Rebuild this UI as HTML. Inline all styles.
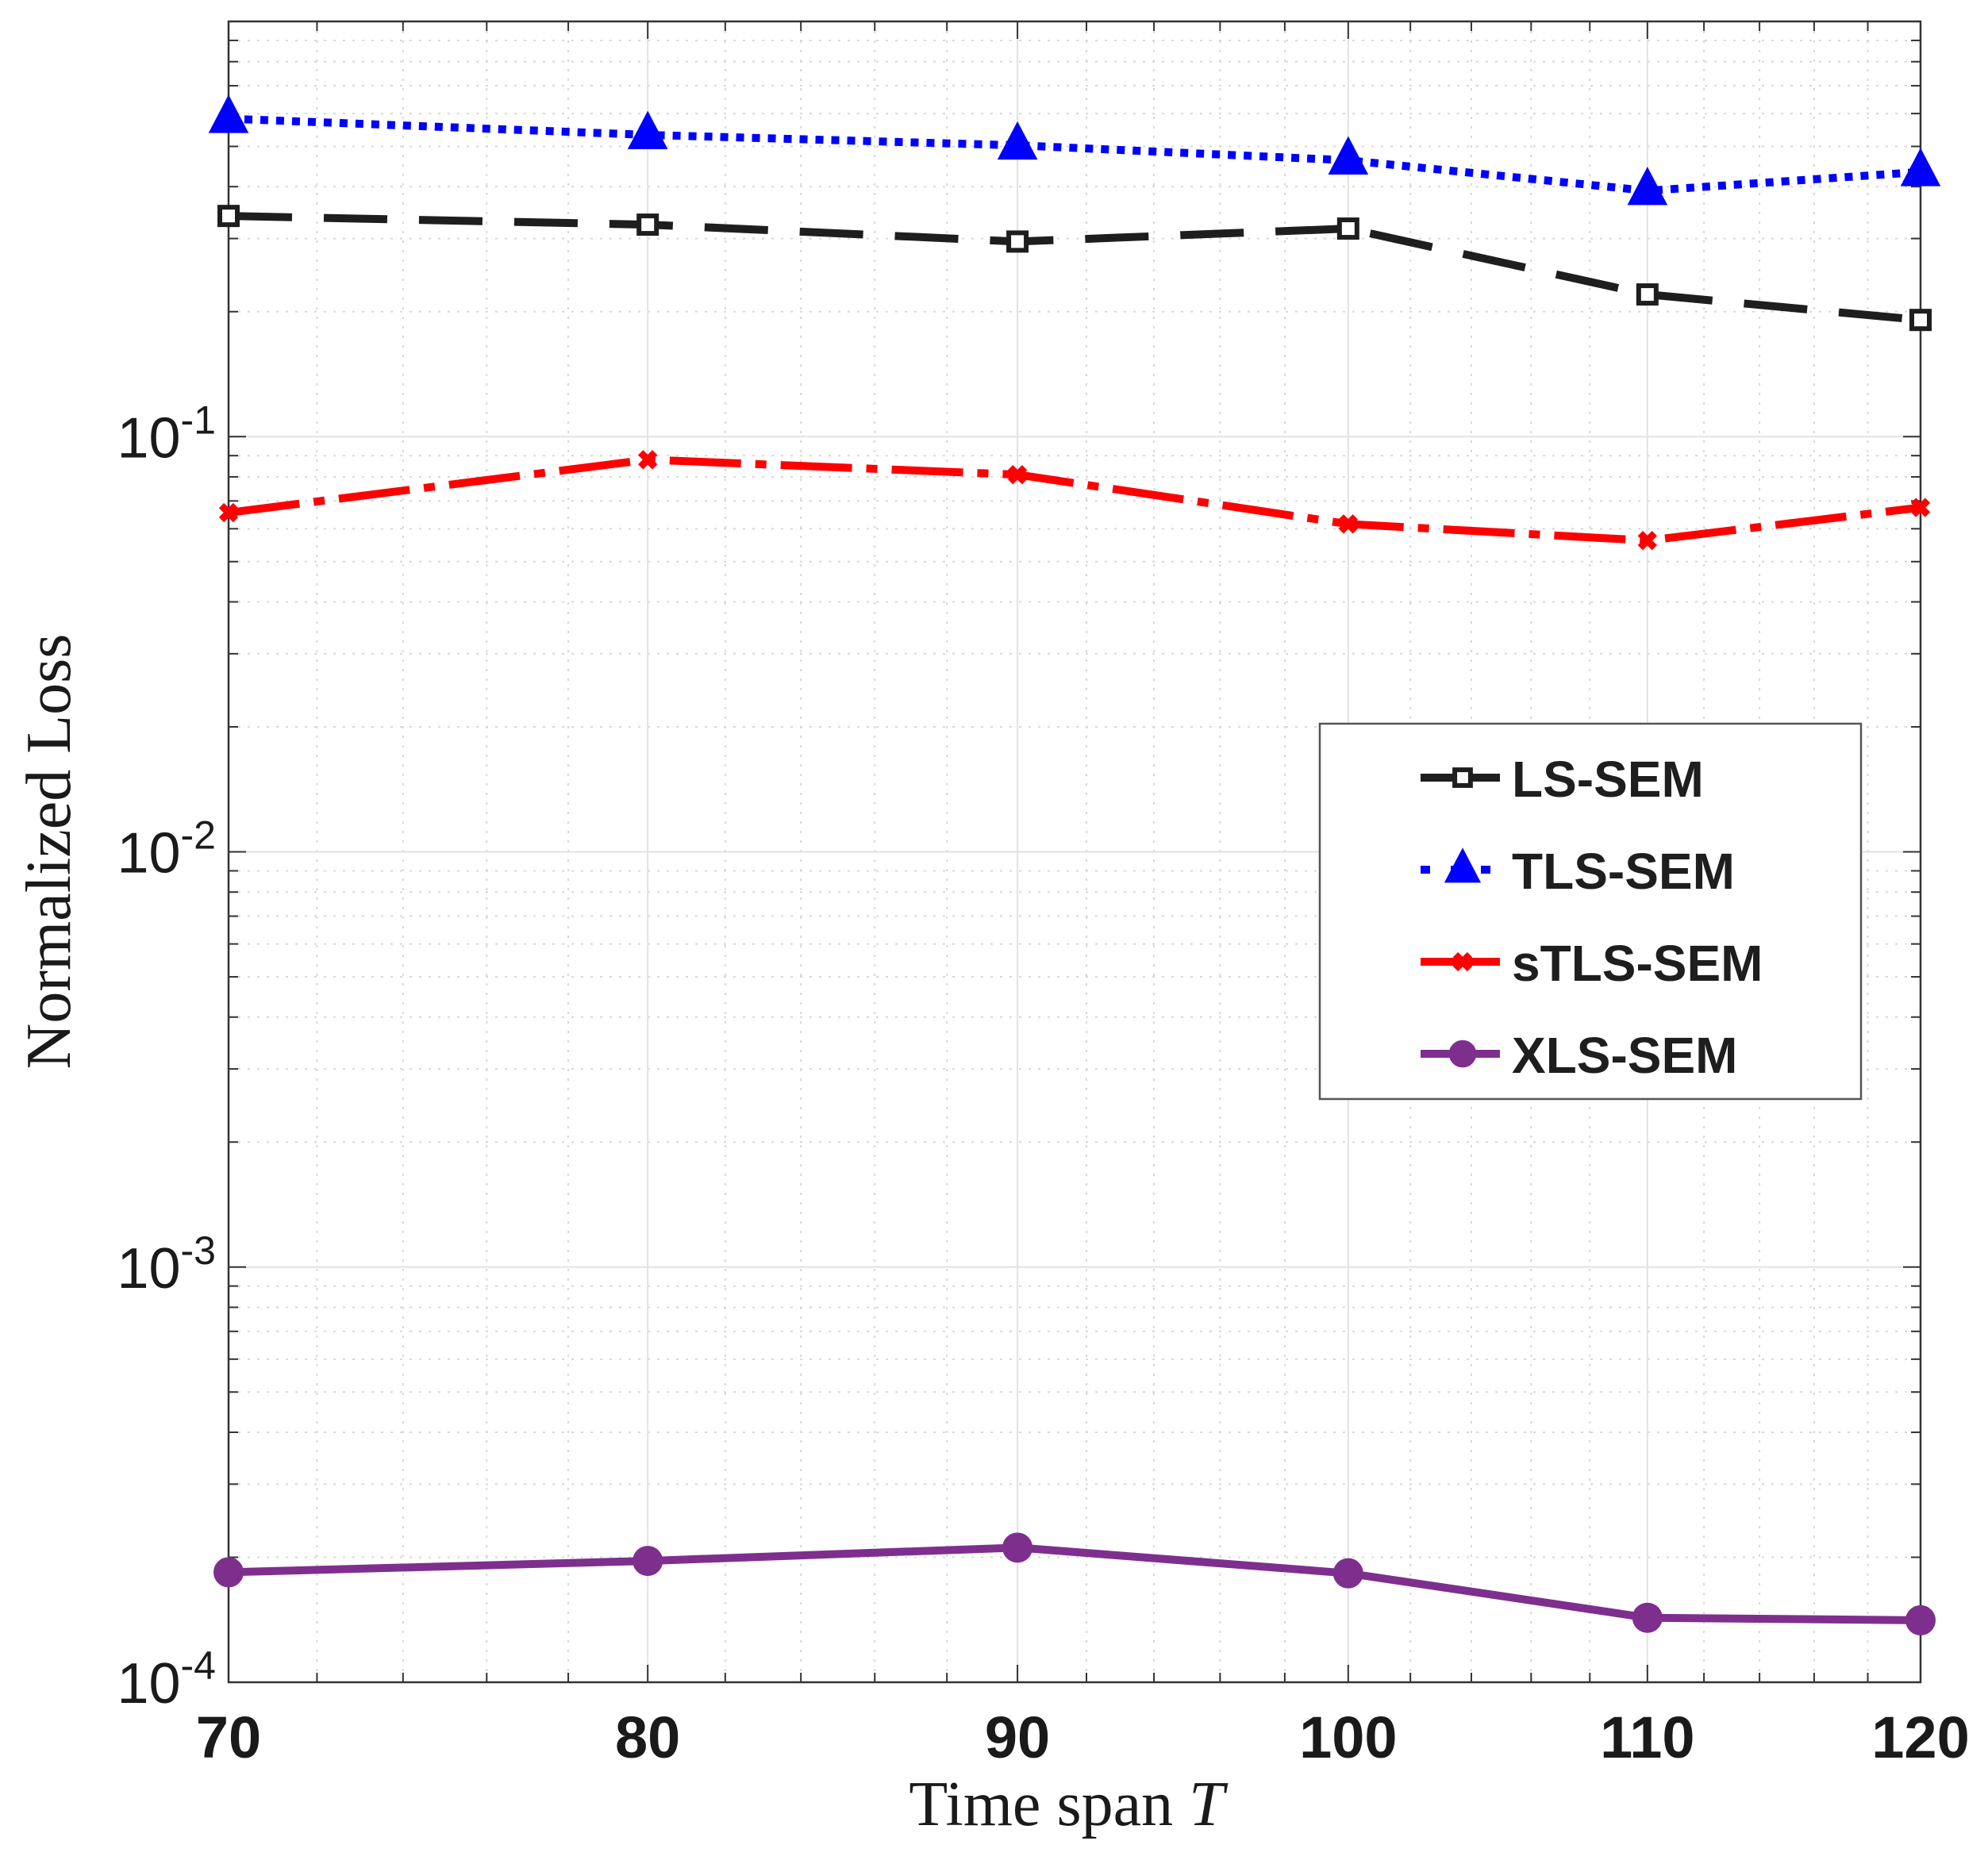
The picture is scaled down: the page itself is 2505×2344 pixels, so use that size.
<!DOCTYPE html>
<html><head><meta charset="utf-8"><style>
html,body{margin:0;padding:0;background:#fff}
svg{display:block}
</style></head><body>
<svg id="chart" width="2505" height="2344" viewBox="0 0 2505 2344" xmlns="http://www.w3.org/2000/svg">
<g id="grid"></g>
<g id="axes"></g>
<g id="series"></g>
<g id="legend"></g>
</svg>
<script>
const categories = [70, 80, 90, 100, 110, 120];
const lsSem = [0.34, 0.324, 0.295, 0.317, 0.22, 0.191];
const tlsSem = [0.583, 0.533, 0.503, 0.463, 0.391, 0.434];
const stlsSem = [0.0656, 0.088, 0.081, 0.0616, 0.0562, 0.0675];
const xlsSem = [1.84e-4, 1.96e-4, 2.11e-4, 1.83e-4, 1.43e-4, 1.41e-4];
const xTickLabels = ["70", "80", "90", "100", "110", "120"];
const yTickExps = [-4, -3, -2, -1];

const NS = "http://www.w3.org/2000/svg";
const L = 288, R = 2420, T = 27, B = 2120;
const xMin = 70, xMax = 120, yMinE = -4, yMaxE = 0;
function xs(v){ return L + (Math.log10(v) - Math.log10(xMin)) / (Math.log10(xMax) - Math.log10(xMin)) * (R - L); }
function ys(v){ return B - (Math.log10(v) - yMinE) / (yMaxE - yMinE) * (B - T); }
function mk(tag, attrs, parent){ const e = document.createElementNS(NS, tag); for (const k in attrs) e.setAttribute(k, attrs[k]); parent.appendChild(e); return e; }

const grid = document.getElementById('grid'), axes = document.getElementById('axes'), series = document.getElementById('series'), legend = document.getElementById('legend');
mk('rect', {x:L, y:T, width:R-L, height:B-T, fill:'#fff'}, grid);
for (let v = 72; v < 120; v += 2) {
  if (v % 10 === 0) continue;
  const l = mk('line', {x1:xs(v), x2:xs(v), y1:T, y2:B, stroke:'#d8d8d8', 'stroke-width':2, 'stroke-dasharray':'3 9'}, grid);
  
  
  mk('line', {x1:xs(v), x2:xs(v), y1:B, y2:B-12, stroke:'#333', 'stroke-width':2}, axes);
  mk('line', {x1:xs(v), x2:xs(v), y1:T, y2:T+12, stroke:'#333', 'stroke-width':2}, axes);
}
for (let e = -4; e < 0; e++) for (let m = 2; m <= 9; m++) {
  const y = ys(m * Math.pow(10, e));
  const l = mk('line', {x1:L, x2:R, y1:y, y2:y, stroke:'#d8d8d8', 'stroke-width':2, 'stroke-dasharray':'3 9'}, grid);
  
  
  mk('line', {x1:L, x2:L+12, y1:y, y2:y, stroke:'#333', 'stroke-width':2}, axes);
  mk('line', {x1:R, x2:R-12, y1:y, y2:y, stroke:'#333', 'stroke-width':2}, axes);
}
categories.forEach((c, i) => {
  const x = xs(c);
  const l = mk('line', {x1:x, x2:x, y1:T, y2:B, stroke:'#e2e2e2', 'stroke-width':2}, grid);
  
  
  mk('line', {x1:x, x2:x, y1:B, y2:B-22, stroke:'#333', 'stroke-width':2}, axes);
  mk('line', {x1:x, x2:x, y1:T, y2:T+22, stroke:'#333', 'stroke-width':2}, axes);
  const t = mk('text', {x:x, y:2215, 'text-anchor':'middle', 'font-family':'Liberation Sans, sans-serif', 'font-size':74, 'font-weight':'bold', fill:'#1a1a1a'}, axes);
  t.textContent = xTickLabels[i];
  
  
});
yTickExps.forEach(e => {
  const y = ys(Math.pow(10, e));
  const l = mk('line', {x1:L, x2:R, y1:y, y2:y, stroke:'#e2e2e2', 'stroke-width':2}, grid);
  
  
  mk('line', {x1:L, x2:L+22, y1:y, y2:y, stroke:'#333', 'stroke-width':2}, axes);
  mk('line', {x1:R, x2:R-22, y1:y, y2:y, stroke:'#333', 'stroke-width':2}, axes);
  const t = mk('text', {x:L-16, y:y+26, 'text-anchor':'end', 'font-family':'Liberation Sans, sans-serif', 'font-size':72, fill:'#1a1a1a'}, axes);
  
  
  const base = document.createElementNS(NS, 'tspan'); base.textContent = '10'; t.appendChild(base);
  const sup = document.createElementNS(NS, 'tspan'); sup.setAttribute('dy', -30); sup.setAttribute('font-size', 50); sup.textContent = String(e); t.appendChild(sup);
});
mk('rect', {x:L, y:T, width:R-L, height:B-T, fill:'none', stroke:'#333', 'stroke-width':2.5}, axes);
let xt = mk('text', {x:(L+R)/2 - 10, y:2300, 'text-anchor':'middle', 'font-family':'Liberation Serif, serif', 'font-size':80, fill:'#1a1a1a'}, axes);
xt.innerHTML = 'Time span <tspan font-style="italic">T</tspan>';


let yt = mk('text', {x:0, y:0, transform:'translate(88,1073) rotate(-90)', 'text-anchor':'middle', 'font-family':'Liberation Serif, serif', 'font-size':80, fill:'#1a1a1a'}, axes);
yt.textContent = 'Normalized  Loss';



const seriesDefs = [
  {name:'ls-sem', label:'LS-SEM', data:lsSem, color:'#1e1e1e', dash:'80 40', marker:'square'},
  {name:'tls-sem', label:'TLS-SEM', data:tlsSem, color:'#0000ff', dash:'10 10', marker:'triangle'},
  {name:'stls-sem', label:'sTLS-SEM', data:stlsSem, color:'#ff0000', dash:'90 18 14 18', marker:'x'},
  {name:'xls-sem', label:'XLS-SEM', data:xlsSem, color:'#7e2f8e', dash:'none', marker:'circle'}
];
function marker(type, x, y, color, parent, s){
  s = s || 1;
  if (type === 'square') return mk('rect', {x:x-11*s, y:y-11*s, width:22*s, height:22*s, fill:'#fff', stroke:color, 'stroke-width':6}, parent);
  if (type === 'triangle') return mk('polygon', {points:`${x},${y-26*s} ${x-22*s},${y+16*s} ${x+22*s},${y+16*s}`, fill:color, stroke:color, 'stroke-width':4}, parent);
  if (type === 'x') { const g = mk('g', {}, parent); mk('path', {d:`M${x-9},${y-9}L${x+9},${y+9}M${x-9},${y+9}L${x+9},${y-9}`, stroke:color, 'stroke-width':9}, g); return g; }
  return mk('circle', {cx:x, cy:y, r:17*s, fill:color, stroke:color, 'stroke-width':4}, parent);
}
seriesDefs.forEach(sd => {
  const g = mk('g', {}, series);
  
  
  const pts = categories.map((c, i) => xs(c) + ',' + ys(sd.data[i])).join(' ');
  const pl = mk('polyline', {points:pts, fill:'none', stroke:sd.color, 'stroke-width':10, 'stroke-dasharray':sd.dash}, g);
  
  
  categories.forEach((c, i) => {
    const m = marker(sd.marker, xs(c), ys(sd.data[i]), sd.color, g);
    
    
  });
});
const lb = mk('rect', {x:1663, y:912, width:682, height:473, fill:'#fff', stroke:'#555', 'stroke-width':2.5}, legend);


seriesDefs.forEach((sd, i) => {
  const y = 980 + i * 116;
  const g = mk('g', {}, legend);
  
  
  mk('line', {x1:1790, x2:1890, y1:y, y2:y, stroke:sd.color, 'stroke-width':10, 'stroke-dasharray':sd.marker === 'triangle' ? '12 26' : 'none'}, g);
  marker(sd.marker, 1843, y, sd.color, g, 0.9);
  const t = mk('text', {x:1905, y:y+24, 'font-family':'Liberation Sans, sans-serif', 'font-size':64, 'font-weight':'bold', fill:'#1e1e1e'}, g);
  t.textContent = sd.label;
});
</script>
</body></html>
